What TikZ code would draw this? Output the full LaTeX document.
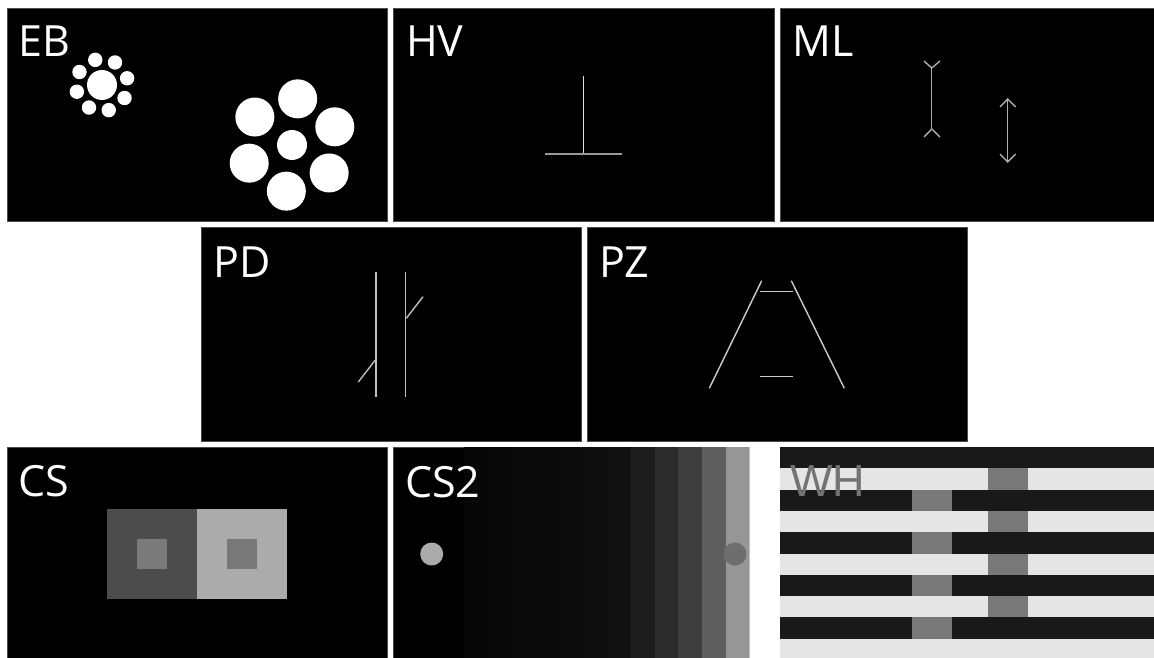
\documentclass[tikz,border=0pt]{standalone}
\usepackage{fontspec}
\setmainfont{Open Sans}
\newfontfamily\whfont{Liberation Sans}
\begin{document}
\begin{tikzpicture}[x=1pt,y=-1pt,
  panel/.style={fill=black,draw=black!70,line width=0.8pt},
  lbl/.style={anchor=base west,inner sep=0pt,text=white,font=\fontsize{43}{43}\selectfont},
  thinline/.style={line width=1.4pt}]
\useasboundingbox[fill=white] (0,0) rectangle (1154,658);
% ---------- Row 1 ----------
\fill[panel] (7,8) rectangle (387,221);
\fill[panel] (393,8) rectangle (774,221);
\fill[panel] (780,8) rectangle (1154,221);
% ---------- Row 2 ----------
\fill[panel] (201,227) rectangle (581,441);
\fill[panel] (587,227) rectangle (967,441);
% ---------- Row 3 ----------
\fill[panel] (7,447) rectangle (387,658);
\fill[panel] (393,447) rectangle (749,658);
% WH panel
\fill[black!10] (780,447) rectangle (1154,658);

% ===== EB =====
\fill[white] (102,85) circle (15);
\foreach \a in {15,60,...,330} \fill[white] (102,85) ++({cos(\a)*26},{-sin(\a)*26}) circle (7.2);
\fill[white] (292,145) circle (15);
\foreach \a in {83,23,-37,-97,-157,143} \fill[white] (292,145) ++({cos(\a)*46.5},{-sin(\a)*46.5}) circle (19.5);
\node[lbl] (eb) at (18,57) {EB};

% ===== HV =====
\node[lbl] (hv) at (406,57) {HV};
\coordinate (hvt) at (583.7,76);
\coordinate (hvb) at (583.7,154);
\coordinate (hvl) at (544.7,154);
\coordinate (hvr) at (622.3,154);
\draw[thinline,color=black!12] (hvt) -- (hvb);
\draw[thinline,color=black!40] (hvl) -- (hvr);

% ===== ML =====
\node[lbl] (ml) at (792,57) {ML};
\begin{scope}[thinline,color=black!32]
\coordinate (m1t) at (931.7,68); \coordinate (m1b) at (931.7,129);
\draw (m1t) -- (m1b);
\draw (924,61) -- (m1t) -- (940,61);
\draw (924,137) -- (m1b) -- (940,137);
\coordinate (m2t) at (1007.7,99); \coordinate (m2b) at (1007.7,162);
\draw (m2t) -- (m2b);
\draw (1000,107) -- (m2t) -- (1015.5,107);
\draw (1000,154) -- (m2b) -- (1015.5,154);
\end{scope}

% ===== PD =====
\node[lbl] (pd) at (213,277) {PD};
\begin{scope}[thinline,color=black!25]
\coordinate (pl1) at (376,272); \coordinate (pl2) at (376,397);
\coordinate (pr1) at (405.7,272); \coordinate (pr2) at (405.7,397);
\draw (pl1) -- (pl2);
\draw (pr1) -- (pr2);
\draw (358.3,382) -- (375.3,360);
\draw (406.3,318.3) -- (423,296.7);
\end{scope}

% ===== PZ =====
\node[lbl] (pz) at (599,277) {PZ};
\begin{scope}[thinline,color=black!20]
\draw (709.3,388.3) -- (761.7,280.7);
\draw (791.3,280.7) -- (844.3,388.3);
\draw (760,291.7) -- (793.3,291.7);
\draw (760,376.3) -- (793.3,376.3);
\end{scope}

% ===== CS =====
\fill[black!70] (106.7,509) rectangle (197,599);
\fill[black!33] (197,509) rectangle (287,599);
\fill[black!52] (137,539) rectangle (167,569);
\fill[black!53] (227,539) rectangle (257,569);
\node[lbl] (cs) at (18,496) {CS};

% ===== CS2 =====
\definecolor{s1}{gray}{0.027}
\definecolor{s2}{gray}{0.031}
\definecolor{s3}{gray}{0.035}
\definecolor{s4}{gray}{0.040}
\definecolor{s5}{gray}{0.047}
\definecolor{s6}{gray}{0.055}
\definecolor{s7}{gray}{0.067}
\definecolor{s8}{gray}{0.110}
\definecolor{s9}{gray}{0.168}
\definecolor{s10}{gray}{0.245}
\definecolor{s11}{gray}{0.370}
\definecolor{s12}{gray}{0.590}
\foreach \c/\xa/\xb in {s1/464.3/488.3, s2/488.3/511.7, s3/511.7/536.7, s4/536.7/560, s5/560/583.3, s6/583.3/606.7, s7/606.7/631, s8/631/655, s9/655/678.3, s10/678.3/702.3, s11/702.3/725.7, s12/725.7/749}
  \fill[\c] (\xa,447) rectangle (\xb,658);
\fill[black!25] (748.5,447) rectangle (750,658);
\fill[black!33] (431.7,554) circle (11.5);
\fill[black!57] (735,554) circle (11.5);
\node[lbl] (cs2) at (405,497) {CS2};

% ===== WH =====
\foreach \k in {0,2,4,6,8}
  \fill[black!90] (780,{447+21.3*\k}) rectangle (1154,{447+21.3*(\k+1)});
\foreach \k in {1,3,5,7}
  \fill[black!53] (988.3,{447+21.3*\k}) rectangle (1027.7,{447+21.3*(\k+1)});
\foreach \k in {2,4,6,8}
  \fill[black!53] (912.3,{447+21.3*\k}) rectangle (951.7,{447+21.3*(\k+1)});
\node[lbl,text=black!55,font=\whfont\fontsize{45}{45}\selectfont] (wh) at (790,496) {WH};
\end{tikzpicture}
\end{document}
